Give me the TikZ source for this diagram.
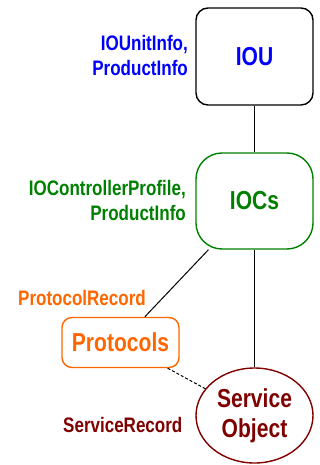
\documentclass[tikz,border=0pt]{standalone}
\usepackage{fontspec}
\setmainfont{Liberation Sans}[FakeStretch=0.81]
\usepackage{xcolor}
\usetikzlibrary{shapes.geometric}
\definecolor{ioublue}{RGB}{0,0,255}
\definecolor{iocgreen}{RGB}{0,128,0}
\definecolor{protorange}{RGB}{255,102,0}
\definecolor{srvred}{RGB}{128,0,0}

\begin{document}
\begin{tikzpicture}[x=1pt,y=-1pt,
  every node/.style={font=\bfseries},
  obj/.style={draw,line width=1.4pt,inner sep=0pt,minimum width=117pt,align=center,
    font=\fontsize{26}{30}\selectfont\bfseries},
  lbl/.style={inner sep=0pt,align=right,font=\fontsize{21}{25}\selectfont\bfseries}]
 \useasboundingbox (0,0) rectangle (320,465);
 \node[obj,rounded corners=12pt,minimum height=97pt,text=ioublue] (IOU) at (254.5,56.5) {IOU};
 \node[obj,rounded corners=26pt,minimum height=96pt,draw=iocgreen,text=iocgreen] (IOCs) at (254.5,201) {IOCs};
 \node[obj,rounded corners=10pt,minimum height=50pt,draw=protorange,text=protorange] (Proto) at (120.5,342.5) {Protocols};
 \node[obj,ellipse,minimum height=95pt,draw=srvred,text=srvred] (SO) at (254.5,415.5) {Service\\Object};
 % attribute labels
 \node[lbl,anchor=east,text=ioublue] (IOUlbl) at (188,55) {IOUnitInfo,\\ProductInfo};
 \node[lbl,anchor=east,text=iocgreen] (IOClbl) at (186,200) {IOControllerProfile,\\ProductInfo};
 \node[lbl,anchor=base west,text=protorange] (Protolbl) at (18,305) {ProtocolRecord};
 \node[lbl,anchor=base west,text=srvred] (SOlbl) at (63,432) {ServiceRecord};
 \foreach \a/\b in {IOU/IOCs,IOCs/Proto,IOCs/SO}
   \draw[line width=1pt] (\a)--(\b);
 \draw[line width=1pt,dash pattern=on 3pt off 2pt] (Proto)--(SO);
\end{tikzpicture}
\end{document}
